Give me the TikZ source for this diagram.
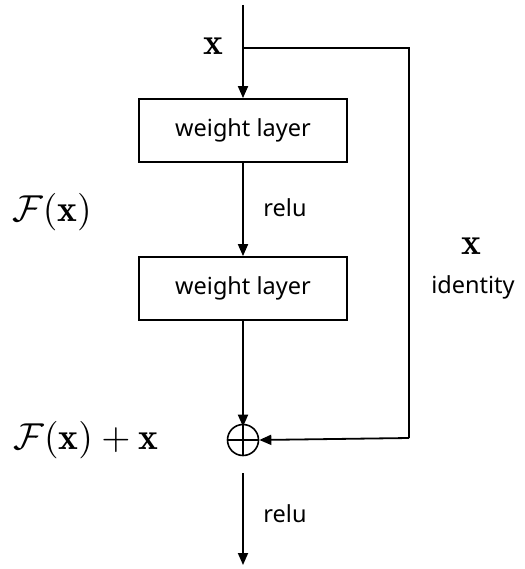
\documentclass[tikz,border=0pt]{standalone}
\usepackage{amsmath}
\usepackage{graphicx}
\usepackage{fontspec}
\newfontfamily\lblfont{Noto Sans}
\usetikzlibrary{arrows.meta}
\newcommand{\mymathbig}[1]{\scalebox{3.75}{$#1$}}
\begin{document}
\begin{tikzpicture}[x=1pt,y=-1pt,
  line width=1.8pt,
  arr/.style={-{Triangle[length=12pt,width=10pt]}},
  wbox/.style={draw,minimum width=208pt,minimum height=63pt,inner sep=0pt,font=\lblfont\fontsize{23.5}{26}\selectfont},
  lbl/.style={font=\lblfont\fontsize{23.5}{26}\selectfont,inner sep=0pt},
  mth/.style={inner sep=0pt}]
\useasboundingbox (0,0) rectangle (524,569);
\coordinate (top) at (243,5);
\coordinate (split) at (243,48);
\coordinate (rtop) at (409,48);
\coordinate (rbot) at (409,438);
\coordinate (out) at (243,565);
\node[wbox] (w1) at (243,130.5) {weight layer};
\node[wbox] (w2) at (243,288.5) {weight layer};
\node[draw,circle,minimum size=31pt,inner sep=0pt,line width=1.6pt] (sum) at (243,440) {};
\draw[line width=1.6pt] (sum.north) -- (sum.south) (sum.west) -- (sum.east);
\draw[arr] (top) -- (w1.north);
\draw[arr] (w1.south) -- (w2.north);
\draw[arr] (w2.south) -- ([yshift=-3pt]sum.north);
\draw (split) -- (rtop) -- (rbot);
\draw[arr] (rbot) -- (sum.east);
\draw[arr] ([yshift=-33pt]sum.center) -- (out);
\node[mth] (xin) at (213,46) {\mymathbig{\mathbf{x}}};
\node[lbl] (r1) at (285,208) {relu};
\node[lbl] (r2) at (285,514) {relu};
\node[mth] (fx) at (52,212) {\mymathbig{\mathcal{F}(\mathbf{x})}};
\node[mth] (fxx) at (86,440) {\mymathbig{\mathcal{F}(\mathbf{x})+\mathbf{x}}};
\node[mth] (xid) at (471,246) {\mymathbig{\mathbf{x}}};
\node[lbl] (id) at (473,287) {identity};
\end{tikzpicture}
\end{document}
